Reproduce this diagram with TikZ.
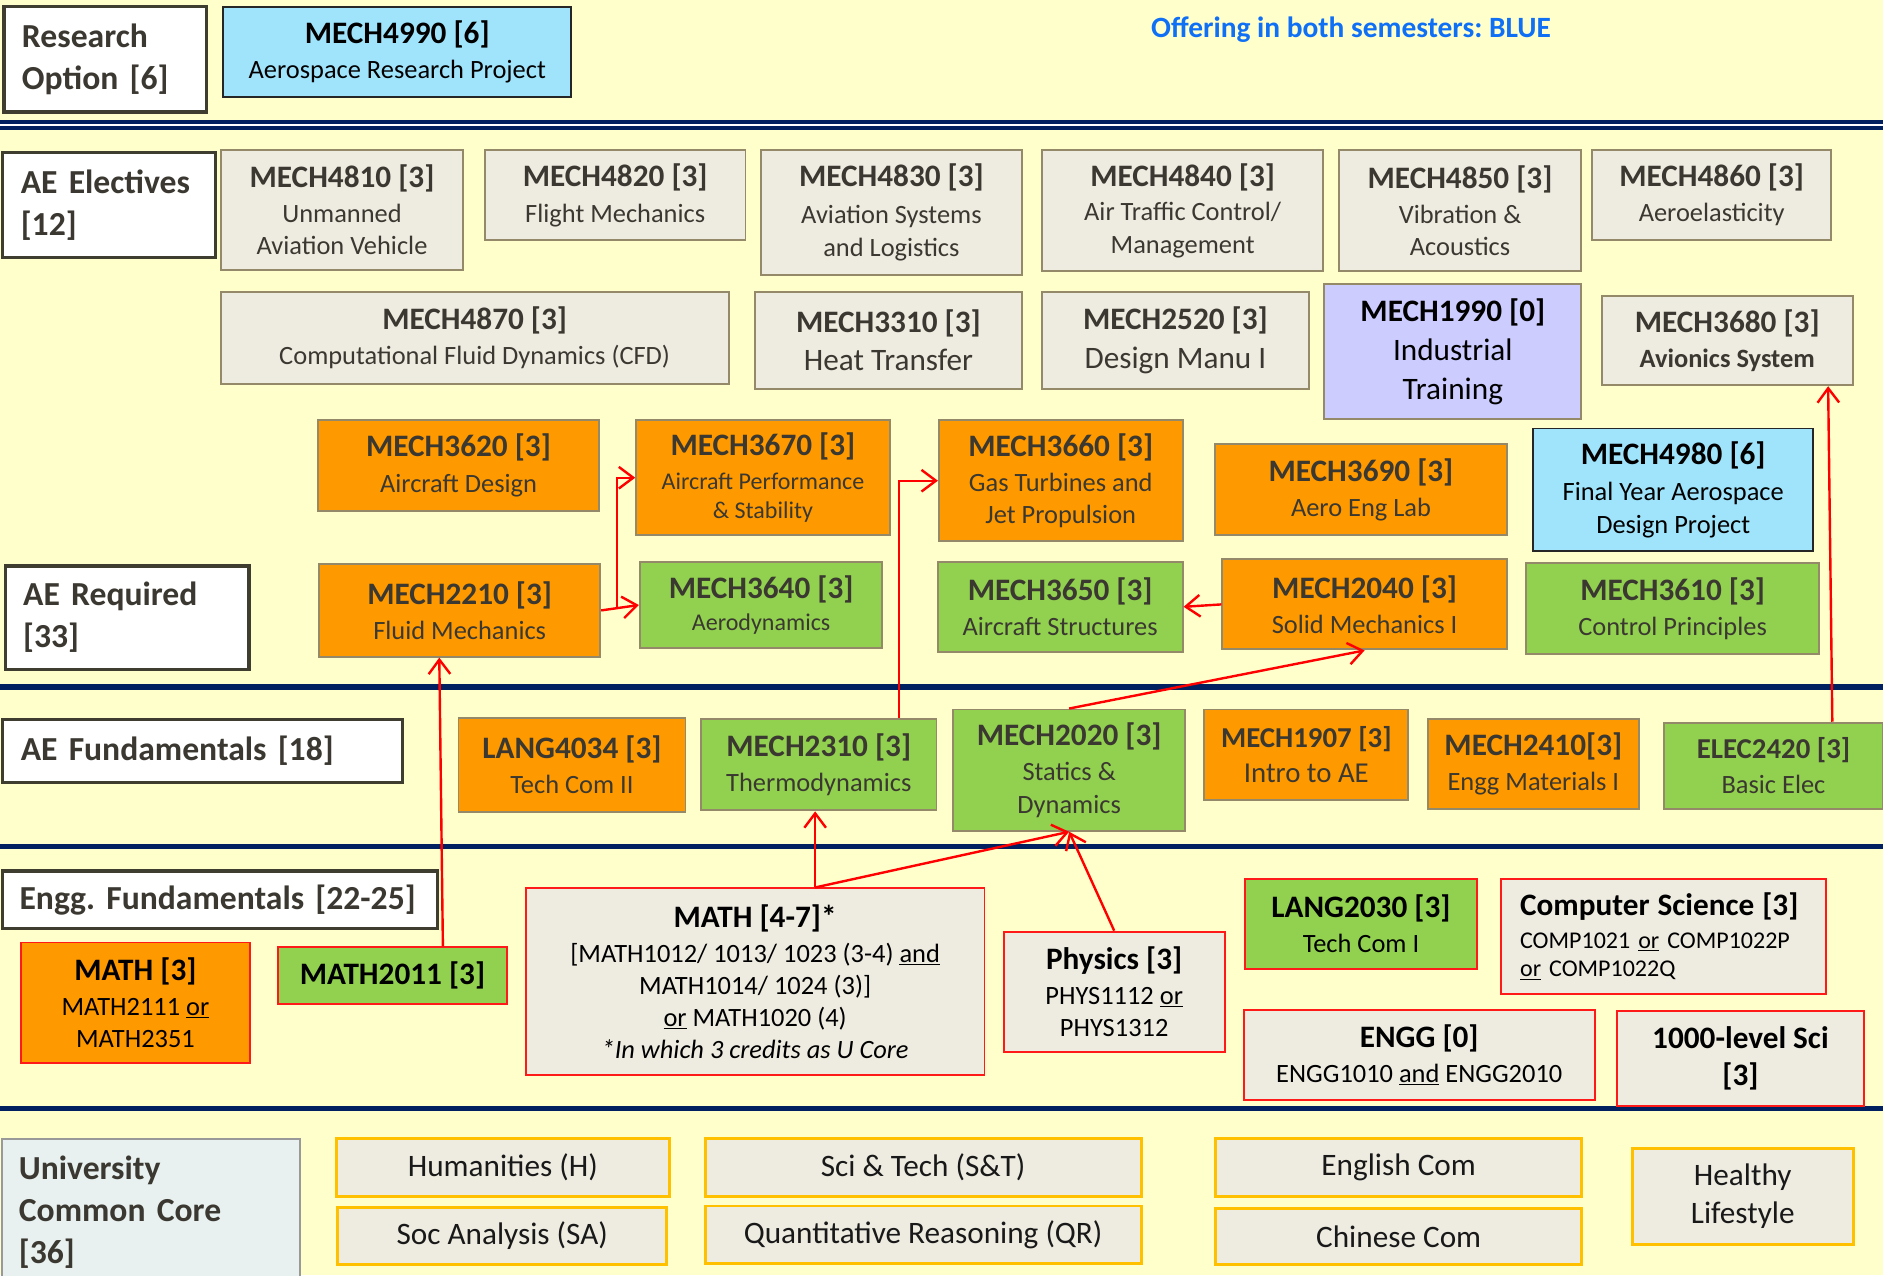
\documentclass[tikz,border=0pt]{standalone}
\usepackage{fontspec}
\setmainfont{Carlito}
\usetikzlibrary{arrows.meta}
\frenchspacing
\definecolor{bg}{HTML}{FFFFCC}
\definecolor{navyc}{HTML}{002060}
\definecolor{orng}{HTML}{FF9900}
\definecolor{grn}{HTML}{92D050}
\definecolor{gfill}{HTML}{EEECE1}
\definecolor{bord}{HTML}{948A6A}
\definecolor{cyn}{HTML}{A0E4FC}
\definecolor{lav}{HTML}{CCCCFF}
\definecolor{gold}{HTML}{FFC000}
\definecolor{dk}{HTML}{262626}
\definecolor{lblbord}{HTML}{3F3D30}
\definecolor{txt}{HTML}{3A3830}
\definecolor{offblue}{HTML}{1070F5}
\definecolor{ccfill}{HTML}{E8F1F0}
\definecolor{redb}{HTML}{FF1A1A}
\newcommand\hd[1]{{\fontsize{26}{30}\selectfont\bfseries #1}}
\newcommand\mybox[7]{\node[#2,minimum width=#5pt-#3pt,minimum height=#6pt-#4pt] (#1) at (#3,#4) {#7};}
\begin{document}
\begin{tikzpicture}[x=1pt,y=-1pt,
  box/.style={draw=bord,line width=1.6pt,inner sep=0pt,align=center,text=txt,font=\fontsize{22}{27}\selectfont,anchor=north west},
  gbox/.style={box,fill=gfill},
  obox/.style={box,fill=orng},
  grbox/.style={box,fill=grn},
  cbox/.style={box,fill=cyn,draw=dk,text=black},
  lbox/.style={box,fill=lav},
  rbox/.style={box,draw=redb,text=black,font=\fontsize{22}{26.5}\selectfont},
  ybox/.style={box,fill=gfill,draw=gold,line width=2.4pt,text=black!90,font=\fontsize{26}{32}\selectfont},
  lbl/.style={draw=lblbord,fill=white,line width=2.6pt,align=left,anchor=north west,text=txt,font=\fontsize{28}{35}\selectfont\bfseries,inner ysep=0pt,inner xsep=15pt},
  arr/.style={draw=red,line width=2pt,-{Straight Barb[length=12pt,width=18pt]}}
]
\fill[bg] (0,0) rectangle (1568,1062);
\useasboundingbox (0,0) rectangle (1568,1062);

% separators
\fill[navyc] (0,100) rectangle (1568,108.5);
\draw[white,line width=1.4pt] (0,104.3) -- (1568,104.3);
\draw[navyc,line width=4.5pt] (0,572) -- (1568,572);
\draw[navyc,line width=4.5pt] (0,705) -- (1568,705);
\draw[navyc,line width=4.8pt] (0,923) -- (1568,923);

% header
\node[font=\fontsize{24.5}{30}\selectfont\bfseries,text=offblue] (offer) at (1125,25) {Offering in both semesters: BLUE};

% category labels
\node[lbl,text width=139pt,minimum height=88pt] (resopt) at (2,4) {Research\\Option [6]};
\node[lbl,text width=147pt,minimum height=87pt] (aeel) at (1,126) {AE Electives\\{[12]}};
\node[lbl,text width=173pt,minimum height=86pt] (aereq) at (3,470) {AE Required\\{[33]}};
\node[lbl,text width=303pt,minimum height=52pt] (aefund) at (1,598) {AE Fundamentals [18]};
\node[lbl,inner xsep=14pt,text width=334pt,minimum height=48pt] (enggf) at (1,724) {Engg. Fundamentals [22-25]};
\node[lbl,fill=ccfill,draw=gray!80,line width=1.5pt,inner xsep=14pt,text width=220pt,minimum height=122pt] (ucc) at (1,948) {University\\Common Core\\{[36]}};

% research
\mybox{m4990}{cbox}{185}{5}{475}{80}{\hd{MECH4990 [6]}\\[2pt]Aerospace Research Project}

% electives
\mybox{m4810}{gbox}{183}{124}{385}{224}{\hd{MECH4810 [3]}\\[2pt]Unmanned\\Aviation Vehicle}
\mybox{m4820}{gbox}{403}{124}{620}{199}{\hd{MECH4820 [3]}\\[3pt]Flight Mechanics}
\mybox{m4830}{gbox}{633}{124}{850}{228}{\hd{MECH4830 [3]}\\[4pt]Aviation Systems\\and Logistics}
\mybox{m4840}{gbox}{867}{124}{1101}{225}{\hd{MECH4840 [3]}\\[2pt]Air Traffic Control/\\Management}
\mybox{m4850}{gbox}{1114}{124}{1316}{225}{\hd{MECH4850 [3]}\\[2pt]Vibration \&\\Acoustics}
\mybox{m4860}{gbox}{1325}{124}{1524}{199}{\hd{MECH4860 [3]}\\[2pt]Aeroelasticity}
\mybox{m4870}{gbox}{183}{242}{606}{319}{\hd{MECH4870 [3]}\\[2pt]Computational Fluid Dynamics (CFD)}
\mybox{m3310}{gbox,font=\fontsize{26}{30}\selectfont}{628}{242}{850}{323}{\hd{MECH3310 [3]}\\[2pt]Heat Transfer}
\mybox{m2520}{gbox,font=\fontsize{26}{30}\selectfont}{867}{242}{1089}{323}{\hd{MECH2520 [3]}\\[2pt]Design Manu I}
\mybox{m1990}{lbox,text=black,font=\fontsize{26}{32}\selectfont}{1102}{236}{1316}{348}{\hd{MECH1990 [0]}\\[1pt]Industrial\\Training}
\mybox{m3680}{gbox}{1333}{246}{1542}{320}{\hd{MECH3680 [3]}\\[2pt]\textbf{Avionics System}}

% required
\mybox{m3620}{obox}{264}{349}{498}{425}{\hd{MECH3620 [3]}\\[3pt]Aircraft Design}
\mybox{m3670}{obox,font=\fontsize{20}{24}\selectfont}{529}{349}{740}{445}{\hd{MECH3670 [3]}\\[4pt]Aircraft Performance\\\&\ Stability}
\mybox{m3660}{obox}{781}{349}{984}{450}{\hd{MECH3660 [3]}\\[2pt]Gas Turbines and\\Jet Propulsion}
\mybox{m3690}{obox}{1011}{369}{1254}{445}{\hd{MECH3690 [3]}\\[2pt]Aero Eng Lab}
\mybox{m4980}{cbox}{1276}{356}{1509}{458}{\hd{MECH4980 [6]}\\[3pt]Final Year Aerospace\\Design Project}
\mybox{m2210}{obox}{265}{469}{499}{546}{\hd{MECH2210 [3]}\\[2pt]Fluid Mechanics}
\mybox{m3640}{grbox,font=\fontsize{20}{26}\selectfont}{532}{467}{734}{539}{\hd{MECH3640 [3]}\\[1pt]Aerodynamics}
\mybox{m3650}{grbox}{780}{467}{984}{542}{\hd{MECH3650 [3]}\\[2pt]Aircraft Structures}
\mybox{m2040}{obox}{1017}{465}{1254}{540}{\hd{MECH2040 [3]}\\[2pt]Solid Mechanics I}
\mybox{m3610}{grbox}{1270}{468}{1514}{544}{\hd{MECH3610 [3]}\\[2pt]Control Principles}

% AE fundamentals
\mybox{l4034}{obox}{381}{597}{570}{675}{\hd{LANG4034 [3]}\\[2pt]Tech Com II}
\mybox{m2310}{grbox}{583}{598}{779}{674}{\hd{MECH2310 [3]}\\[2pt]Thermodynamics}
\mybox{m2020}{grbox}{793}{590}{986}{691}{\hd{MECH2020 [3]}\\[2pt]Statics \&\\Dynamics}
\mybox{m1907}{obox,font=\fontsize{24}{28}\selectfont}{1002}{590}{1172}{665}{{\bfseries MECH1907 [3]}\\[1pt]Intro to AE}
\mybox{m2410}{obox}{1188}{598}{1364}{673}{\hd{MECH2410[3]}\\[2pt]Engg Materials I}
\mybox{e2420}{grbox}{1385}{601}{1567}{673}{{\fontsize{24}{28}\selectfont\bfseries ELEC2420 [3]}\\[2pt]Basic Elec}

% engineering fundamentals
\mybox{math3}{rbox,fill=orng}{17}{784}{207}{884}{\hd{MATH [3]}\\[3pt]MATH2111 \underline{or}\\MATH2351}
\mybox{m2011}{rbox,fill=grn}{231}{788}{421}{835}{\hd{MATH2011 [3]}}
\mybox{math47}{rbox,fill=gfill}{437}{739}{819}{894}{\hd{MATH [4-7]*}\\[3pt]{[}MATH1012/ 1013/ 1023 (3-4) \underline{and}\\MATH1014/ 1024 (3)]\\\underline{or} MATH1020 (4)\\\textit{*In which 3 credits as U Core}}
\mybox{phys}{rbox,fill=gfill}{835}{775}{1019}{875}{\hd{Physics [3]}\\[3pt]PHYS1112 \underline{or}\\PHYS1312}
\mybox{l2030}{rbox,fill=grn}{1036}{731}{1229}{806}{\hd{LANG2030 [3]}\\[3pt]Tech Com I}
\mybox{cs}{rbox,fill=gfill,align=left,inner xsep=16pt,text width=239pt,font=\fontsize{20}{24}\selectfont}{1249}{731}{1520}{827}{\hd{Computer Science [3]}\\[3pt]COMP1021 \underline{or} COMP1022P\\\underline{or} COMP1022Q}
\mybox{engg}{rbox,fill=gfill}{1035}{840}{1327}{915}{\hd{ENGG [0]}\\[3pt]ENGG1010 \underline{and} ENGG2010}
\mybox{sci1000}{rbox,fill=gfill,font=\fontsize{26}{31}\selectfont}{1346}{841}{1551}{920}{\hd{1000-level Sci}\\\hd{[3]}}

% common core
\mybox{hum}{ybox}{279}{947}{556}{995}{Humanities (H)}
\mybox{soc}{ybox}{280}{1004}{554}{1052}{Soc Analysis (SA)}
\mybox{st}{ybox}{586}{947}{949}{995}{Sci \& Tech (S\&T)}
\mybox{qr}{ybox}{586}{1003}{949}{1051}{Quantitative Reasoning (QR)}
\mybox{eng}{ybox}{1011}{947}{1316}{995}{English Com}
\mybox{chi}{ybox}{1011}{1005}{1316}{1052}{Chinese Com}
\mybox{hl}{ybox}{1358}{955}{1542}{1035}{Healthy\\Lifestyle}

% connectors
\coordinate (j1) at (514,507);
\draw[arr] (m2210.east) -- (m3640.west);
\draw[arr] (j1) |- (m3670.west);
\draw[arr] ([xshift=-32pt]m2310.north east) |- (m3660.west);
\draw[arr] ([xshift=42pt]m2011.north) -- ([xshift=-17pt]m2210.south);
\coordinate (p47) at ([xshift=50pt]math47.north);
\draw[arr] (p47) -- (p47 |- m2310.south);
\draw[arr] (p47) -- (m2020.south);
\draw[arr] (phys.north) -- (m2020.south);
\draw[arr] (m2020.north) -- (m2040.south);
\draw[arr] (m2040.west) -- (m3650.east);
\draw[arr] ([xshift=49pt]e2420.north) -- ([xshift=84pt]m3680.south);
\end{tikzpicture}
\end{document}
